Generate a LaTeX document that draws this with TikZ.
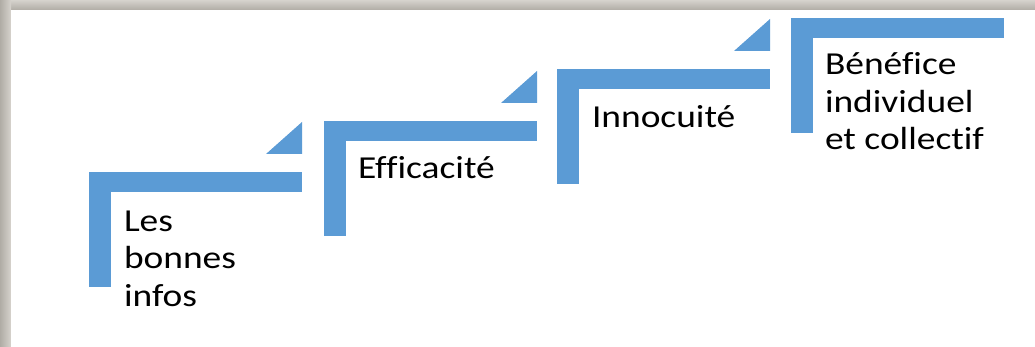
\documentclass[tikz,border=0pt]{standalone}
\usepackage{fontspec}
\setmainfont{Carlito}[Ligatures=NoCommon]
\definecolor{stepblue}{RGB}{91,155,213}
\definecolor{framegray}{RGB}{176,172,165}
\definecolor{framelight}{RGB}{214,211,205}

\begin{document}
\begin{tikzpicture}
  [x=1pt,y=-1pt,every node/.style={inner sep=0pt,outer sep=0pt}]

	\tikzset{
	bar/.style = {fill=stepblue,draw=none},
	stepnote/.style = {anchor=base west,align=left,xscale=1.17,
	  font=\fontsize{32}{37.5}\selectfont}
	}

  \useasboundingbox (0,0) rectangle (1035,347);

  % frame
  \shade[top color=framelight,bottom color=framegray] (0,0) rectangle (1035,10);
  \shade[left color=framegray,right color=framelight] (0,0) rectangle (11,347);
  \fill[white] (11,10) rectangle (1035,347);

  % steps
  \foreach \x/\y in {89/172,324/121,557/69,791/18} {
    \fill[bar] (\x,\y) rectangle ++(22,115);
    \fill[bar] (\x,\y) rectangle ++(213,20);
  }
  \foreach \x/\y in {89/172,324/121,557/69}
    \fill[bar] (\x+177,\y-18) -- (\x+213,\y-18) -- (\x+213,\y-50) -- cycle;

  % base = last line
  \node[stepnote] (infos) at (124,306) {Les\\bonnes\\infos};
  \node[stepnote] (efficacite) at (358,179) {Efficacité};
  \node[stepnote] (innocuite) at (592,128) {Innocuité};
  \node[stepnote] (benefice) at (825,150) {Bénéfice\\individuel\\et collectif};

\end{tikzpicture}
\end{document}
